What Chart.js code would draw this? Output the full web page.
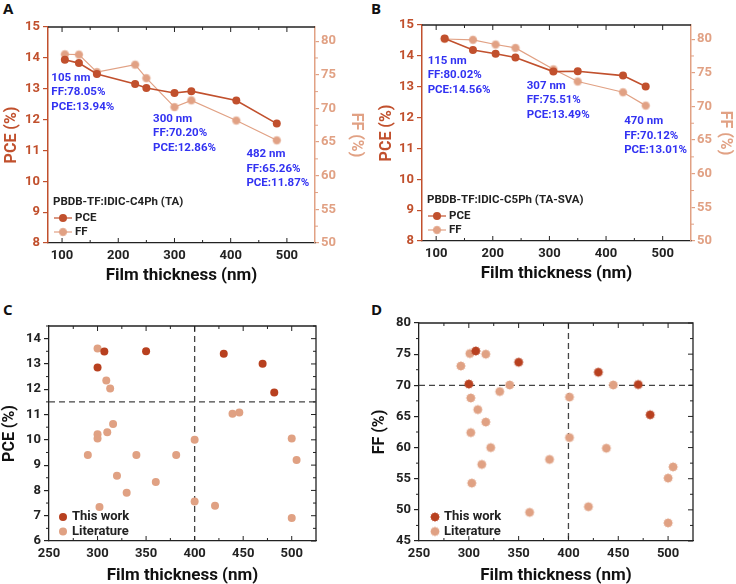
<!DOCTYPE html>
<html>
<head>
<meta charset="utf-8">
<script src="https://cdn.jsdelivr.net/npm/chart.js@4.4.0/dist/chart.umd.min.js"></script>
<style>
    body{margin:0;background:#fff;width:736px;height:584px;position:relative;overflow:hidden;}
    canvas{position:absolute;}
    .tag{position:absolute;font:bold 15px 'Open Sans',Arial,sans-serif;color:#111;line-height:15px;}
</style>
</head>
<body>
<div class="tag" style="left:3px;top:1px">A</div>
<div class="tag" style="left:371px;top:1px">B</div>
<div class="tag" style="left:3px;top:302px">C</div>
<div class="tag" style="left:371px;top:302px">D</div>
<canvas id="chartA" width="368" height="292" style="left:0;top:0"></canvas>
<canvas id="chartB" width="368" height="292" style="left:368px;top:0"></canvas>
<canvas id="chartC" width="368" height="292" style="left:0;top:292px"></canvas>
<canvas id="chartD" width="368" height="292" style="left:368px;top:292px"></canvas>
<script>
// ---- panel A: PBDB-TF:IDIC-C4Ph (TA)
var thickA = [105, 130, 162, 230, 250, 300, 330, 410, 482];
var pceA = [13.94, 13.83, 13.48, 13.15, 13.02, 12.86, 12.92, 12.62, 11.87];
var ffA = [78.05, 78.0, 75.4, 76.5, 74.5, 70.20, 71.2, 68.2, 65.26];

// ---- panel B: PBDB-TF:IDIC-C5Ph (TA-SVA)
var thickB = [115, 165, 205, 240, 307, 350, 430, 470];
var pceB = [14.56, 14.19, 14.07, 13.95, 13.49, 13.50, 13.36, 13.01];
var ffB = [80.02, 79.9, 79.2, 78.7, 75.51, 73.7, 72.1, 70.12];

// ---- panel C: PCE vs thickness, this work vs literature
var workThickC = [300, 307, 350, 430, 470, 482];
var workPceC = [12.86, 13.49, 13.50, 13.40, 13.01, 11.87];
var litThickC = [300, 309, 313, 316, 310, 300, 300, 290, 320, 340, 330, 302, 360, 381, 400, 400, 421, 439, 446, 500, 505, 500];
var litPceC = [13.61, 12.35, 12.03, 10.63, 10.30, 10.22, 10.05, 9.40, 8.58, 9.40, 7.91, 7.34, 8.33, 9.40, 10.0, 7.56, 7.39, 11.03, 11.08, 10.05, 9.20, 6.91];

// ---- panel D: FF vs thickness
var workThickD = [307, 300, 350, 430, 470, 482];
var workFfD = [75.51, 70.20, 73.7, 72.1, 70.12, 65.26];
var litThickD = [292, 301, 317, 341, 331, 302, 309, 317, 302, 322, 313, 303, 361, 381, 401, 401, 445, 438, 420, 500, 505, 500];
var litFfD = [73.1, 75.1, 75.0, 70.05, 69.0, 67.96, 66.1, 64.1, 62.4, 60.0, 57.3, 54.3, 49.6, 58.1, 68.1, 61.6, 70.05, 59.9, 50.5, 55.1, 56.9, 47.9];

// annotation texts (anchored in data units)
var notesA = [
    {x: 81, y: 13.35, lines: ['105 nm', 'FF:78.05%', 'PCE:13.94%']},
    {x: 262, y: 12.02, lines: ['300 nm', 'FF:70.20%', 'PCE:12.86%']},
    {x: 428, y: 10.88, lines: ['482 nm', 'FF:65.26%', 'PCE:11.87%']}
];
var notesB = [
    {x: 85, y: 13.83, lines: ['115 nm', 'FF:80.02%', 'PCE:14.56%']},
    {x: 260, y: 13.02, lines: ['307 nm', 'FF:75.51%', 'PCE:13.49%']},
    {x: 432, y: 11.88, lines: ['470 nm', 'FF:70.12%', 'PCE:13.01%']}
];
var guideC = {x: 400, y: 11.5};
var guideD = {x: 400, y: 70};

var PCE_COLOR = '#c1502d';
var FF_COLOR = '#e1a184';
var WORK_COLOR = '#b8401f';
var LIT_COLOR = '#e0a183';
var NOTE_COLOR = '#3232f2';
var INK = '#222';

Chart.defaults.font.family = "Roboto, 'Noto Sans', sans-serif";
Chart.defaults.font.weight = 'bold';
Chart.defaults.color = INK;

function starburst(color, r) {
    var c = document.createElement('canvas');
    var s = Math.ceil(r * 2 + 2);
    c.width = c.height = s;
    var g = c.getContext('2d');
    g.fillStyle = color;
    g.beginPath();
    for (var i = 0; i < 24; i++) {
        var a = i * Math.PI / 12 - Math.PI / 2;
        var rr = i % 2 ? r * 0.78 : r;
        g.lineTo(s / 2 + rr * Math.cos(a), s / 2 + rr * Math.sin(a));
    }
    g.closePath();
    g.fill();
    return c;
}
var starFF = starburst(FF_COLOR, 4.6);
var starWork = starburst(WORK_COLOR, 5);
var starLit = starburst(LIT_COLOR, 5);

function pts(xs, ys) {
    return xs.map(function(x, i) { return {x: x, y: ys[i]}; });
}

// top line, closing right line, inward ticks
var framePlugin = {
    id: 'frame',
    afterDatasetsDraw: function(chart, args, o) {
        var ctx = chart.ctx, a = chart.chartArea, sx = chart.scales.x, sy = chart.scales.y;
        ctx.save();
        ctx.lineWidth = 1.3;
        ctx.strokeStyle = INK;
        ctx.beginPath();
        ctx.moveTo(a.left, a.top);
        ctx.lineTo(a.right, a.top);
        if (o.closeRight) ctx.lineTo(a.right, a.bottom);
        ctx.stroke();
        ctx.lineWidth = 1;
        for (var v = o.xFirst, k = 0; v <= sx.max; v += o.xStep / 2, k++) {
            var px = sx.getPixelForValue(v);
            if (px < a.left + 1 || px > a.right - 1) continue;
            var len = k % 2 ? 3 : 5;
            ctx.beginPath();
            ctx.moveTo(px, a.bottom); ctx.lineTo(px, a.bottom - len);
            ctx.moveTo(px, a.top); ctx.lineTo(px, a.top + len);
            ctx.stroke();
        }
        if (o.closeRight) {
            for (var w = sy.min, j = 0; w <= sy.max; w += o.yStep / 2, j++) {
                var py = sy.getPixelForValue(w);
                var l2 = j % 2 ? 3 : 5;
                ctx.beginPath();
                ctx.moveTo(a.right, py); ctx.lineTo(a.right - l2, py);
                ctx.moveTo(a.left, py); ctx.lineTo(a.left - (j % 2 ? 3 : 0), py);
                ctx.stroke();
            }
        }
        if (o.y2Minor) {
            var s2 = chart.scales.y2;
            ctx.strokeStyle = FF_COLOR;
            for (var m = s2.min + o.y2Minor; m < s2.max; m += o.y2Minor * 2) {
                var q = s2.getPixelForValue(m);
                ctx.beginPath(); ctx.moveTo(a.right, q); ctx.lineTo(a.right + 3, q); ctx.stroke();
            }
        }
        ctx.restore();
    }
};

var guidePlugin = {
    id: 'guides',
    beforeDatasetsDraw: function(chart, args, o) {
        if (!o.g) return;
        var ctx = chart.ctx, a = chart.chartArea;
        var px = chart.scales.x.getPixelForValue(o.g.x);
        var py = chart.scales.y.getPixelForValue(o.g.y);
        ctx.save();
        ctx.strokeStyle = '#444';
        ctx.lineWidth = 1.3;
        ctx.setLineDash([6, 4]);
        ctx.beginPath();
        ctx.moveTo(px, a.top); ctx.lineTo(px, a.bottom);
        ctx.moveTo(a.left, py); ctx.lineTo(a.right, py);
        ctx.stroke();
        ctx.restore();
    }
};

var notePlugin = {
    id: 'notes',
    afterDatasetsDraw: function(chart, args, o) {
        if (!o.items) return;
        var ctx = chart.ctx;
        ctx.save();
        ctx.fillStyle = NOTE_COLOR;
        ctx.font = "bold 11.5px Roboto, sans-serif";
        ctx.textBaseline = 'middle';
        o.items.forEach(function(n) {
            var px = chart.scales.x.getPixelForValue(n.x);
            var py = chart.scales.y.getPixelForValue(n.y);
            n.lines.forEach(function(t, i) { ctx.fillText(t, px, py + i * 14.5); });
        });
        ctx.restore();
    }
};

// legend drawn inside the plot, bottom-left
var keyPlugin = {
    id: 'key',
    afterDraw: function(chart, args, o) {
        var ctx = chart.ctx, a = chart.chartArea;
        var x0 = a.left + o.dx;
        ctx.save();
        ctx.textBaseline = 'middle';
        ctx.fillStyle = INK;
        if (o.title) {
            ctx.font = "bold 11.5px Roboto, sans-serif";
            ctx.fillText(o.title, x0, a.bottom - o.titleDy);
        }
        ctx.font = o.font;
        chart.data.datasets.forEach(function(ds, i) {
            var y = a.bottom - o.rows[i];
            var mx = x0 + o.markerDx;
            if (o.lines) {
                ctx.strokeStyle = ds.borderColor;
                ctx.lineWidth = 1.2;
                ctx.beginPath(); ctx.moveTo(x0 + 1, y); ctx.lineTo(mx + (mx - x0) - 1, y); ctx.stroke();
            }
            var st = ds.pointStyle;
            if (st instanceof HTMLCanvasElement) {
                ctx.drawImage(st, mx - st.width / 2, y - st.height / 2);
            } else {
                ctx.fillStyle = ds.pointBackgroundColor;
                ctx.beginPath(); ctx.arc(mx, y, ds.pointRadius, 0, Math.PI * 2); ctx.fill();
            }
            ctx.fillStyle = INK;
            ctx.fillText(ds.label, x0 + o.textDx, y);
        });
        ctx.restore();
    }
};

function fixW(w) {
    return function(s) { s.width = w; s.paddingTop = 0; s.paddingBottom = 0; };
}
function fixH(h) {
    return function(s) { s.height = h; s.paddingLeft = 0; s.paddingRight = 0; };
}

function tickFont() { return {size: 13, weight: 'bold'}; }

function dualChart(id, thick, pce, ff, notes, title, box) {
    return new Chart(document.getElementById(id), {
        type: 'line',
        plugins: [framePlugin, notePlugin, keyPlugin],
        data: {
            datasets: [
                {
                    label: 'PCE',
                    data: pts(thick, pce),
                    yAxisID: 'y',
                    borderColor: PCE_COLOR,
                    pointBackgroundColor: PCE_COLOR,
                    pointBorderWidth: 0,
                    borderWidth: 1.6,
                    pointRadius: 4,
                    pointStyle: 'circle'
                },
                {
                    label: 'FF',
                    data: pts(thick, ff),
                    yAxisID: 'y2',
                    borderColor: FF_COLOR,
                    borderWidth: 1.2,
                    pointStyle: starFF
                }
            ]
        },
        options: {
            responsive: false,
            animation: false,
            layout: {padding: {top: box.top, left: 0, right: 0, bottom: 0}},
            plugins: {
                legend: {display: false},
                tooltip: {enabled: false},
                frame: {xFirst: 100, xStep: 100, y2Minor: 2.5},
                notes: {items: notes},
                key: {title: title, titleDy: 41, rows: [25, 11], dx: 5, markerDx: 10, textDx: 22, lines: true, font: "bold 11.5px Roboto, sans-serif"}
            },
            scales: {
                x: {
                    type: 'linear', min: 75, max: 550,
                    afterFit: fixH(box.xh),
                    ticks: {stepSize: 100, includeBounds: false, padding: 5, color: INK, font: tickFont()},
                    grid: {display: false, drawTicks: false},
                    border: {display: true, color: INK, width: 1.3},
                    title: {display: true, text: 'Film thickness (nm)', color: '#111', font: {size: 17, weight: 'bold'}, padding: {top: 0, bottom: box.xt}}
                },
                y: {
                    position: 'left', min: 8, max: 15,
                    afterFit: fixW(box.yw),
                    ticks: {stepSize: 1, includeBounds: false, padding: 3, color: PCE_COLOR, font: tickFont()},
                    grid: {display: true, drawOnChartArea: false, drawTicks: true, tickLength: 5, color: PCE_COLOR, lineWidth: 1.2},
                    border: {display: true, color: PCE_COLOR, width: 1.5},
                    title: {display: true, text: 'PCE (%)', color: PCE_COLOR, font: {size: 16, weight: 'bold'}, padding: {top: box.yt, bottom: 0}}
                },
                y2: {
                    position: 'right', min: 50, max: 82.1,
                    afterFit: fixW(box.y2w),
                    ticks: {stepSize: 5, includeBounds: false, padding: 2, color: FF_COLOR, font: tickFont()},
                    grid: {display: true, drawOnChartArea: false, drawTicks: true, tickLength: 4, color: FF_COLOR, lineWidth: 1.2},
                    border: {display: true, color: FF_COLOR, width: 1.5},
                    title: {display: true, text: 'FF (%)', color: FF_COLOR, font: {size: 16, weight: 'bold'}, padding: {top: box.y2t, bottom: 0}}
                }
            }
        }
    });
}

function scatterChart(id, wx, wy, lx, ly, yLabel, yr, guide, markers, box) {
    return new Chart(document.getElementById(id), {
        type: 'scatter',
        plugins: [guidePlugin, framePlugin, keyPlugin],
        data: {
            datasets: [
                {label: 'This work', data: pts(wx, wy), pointStyle: markers[0], pointRadius: 4, pointBackgroundColor: WORK_COLOR, pointBorderWidth: 0},
                {label: 'Literature', data: pts(lx, ly), pointStyle: markers[1], pointRadius: 4, pointBackgroundColor: LIT_COLOR, pointBorderWidth: 0}
            ]
        },
        options: {
            responsive: false,
            animation: false,
            layout: {padding: {top: box.top, left: 0, right: box.right, bottom: 0}},
            plugins: {
                legend: {display: false},
                tooltip: {enabled: false},
                guides: {g: guide},
                frame: {xFirst: 250, xStep: 50, closeRight: true, yStep: yr.step},
                key: {rows: [24, 9.5], dx: 0, markerDx: box.kx, textDx: box.kx + 9, lines: false, font: "bold 13px Roboto, sans-serif"}
            },
            scales: {
                x: {
                    type: 'linear', min: 250, max: 525,
                    afterFit: fixH(box.xh),
                    ticks: {stepSize: 50, includeBounds: false, padding: 5, color: INK, font: tickFont()},
                    grid: {display: false, drawTicks: false},
                    border: {display: true, color: INK, width: 1.3},
                    title: {display: true, text: 'Film thickness (nm)', color: '#111', font: {size: 17, weight: 'bold', lineHeight: 1}, padding: {top: 0, bottom: 0}}
                },
                y: {
                    position: 'left', min: yr.min, max: yr.max,
                    afterFit: fixW(box.yw),
                    ticks: {stepSize: yr.step, includeBounds: false, padding: 3, color: INK, font: tickFont()},
                    grid: {display: true, drawOnChartArea: false, drawTicks: true, tickLength: 5, color: INK, lineWidth: 1.2},
                    border: {display: true, color: INK, width: 1.3},
                    title: {display: true, text: yLabel, color: '#111', font: {size: 16, weight: 'bold'}, padding: {top: box.yt, bottom: 0}}
                }
            }
        }
    });
}

dualChart('chartA', thickA, pceA, ffA, notesA, 'PBDB-TF:IDIC-C4Ph (TA)',
    {top: 27, xh: 49, yw: 48, y2w: 53, xt: 6, yt: 2, y2t: 2});
dualChart('chartB', thickB, pceB, ffB, notesB, 'PBDB-TF:IDIC-C5Ph (TA-SVA)',
    {top: 25, xh: 51, yw: 54, y2w: 45, xt: 8, yt: 9.5, y2t: 1});
scatterChart('chartC', workThickC, workPceC, litThickC, litPceC, 'PCE (%)',
    {min: 6, max: 14.5, step: 1}, guideC, ['circle', 'circle'],
    {top: 34, right: 52, xh: 43, yw: 49, yt: 0, kx: 14});
scatterChart('chartD', workThickD, workFfD, litThickD, litFfD, 'FF (%)',
    {min: 45, max: 80, step: 5}, guideD, [starWork, starLit],
    {top: 31, right: 43, xh: 43, yw: 51, yt: 2.5, kx: 16});
</script>
</body>
</html>
